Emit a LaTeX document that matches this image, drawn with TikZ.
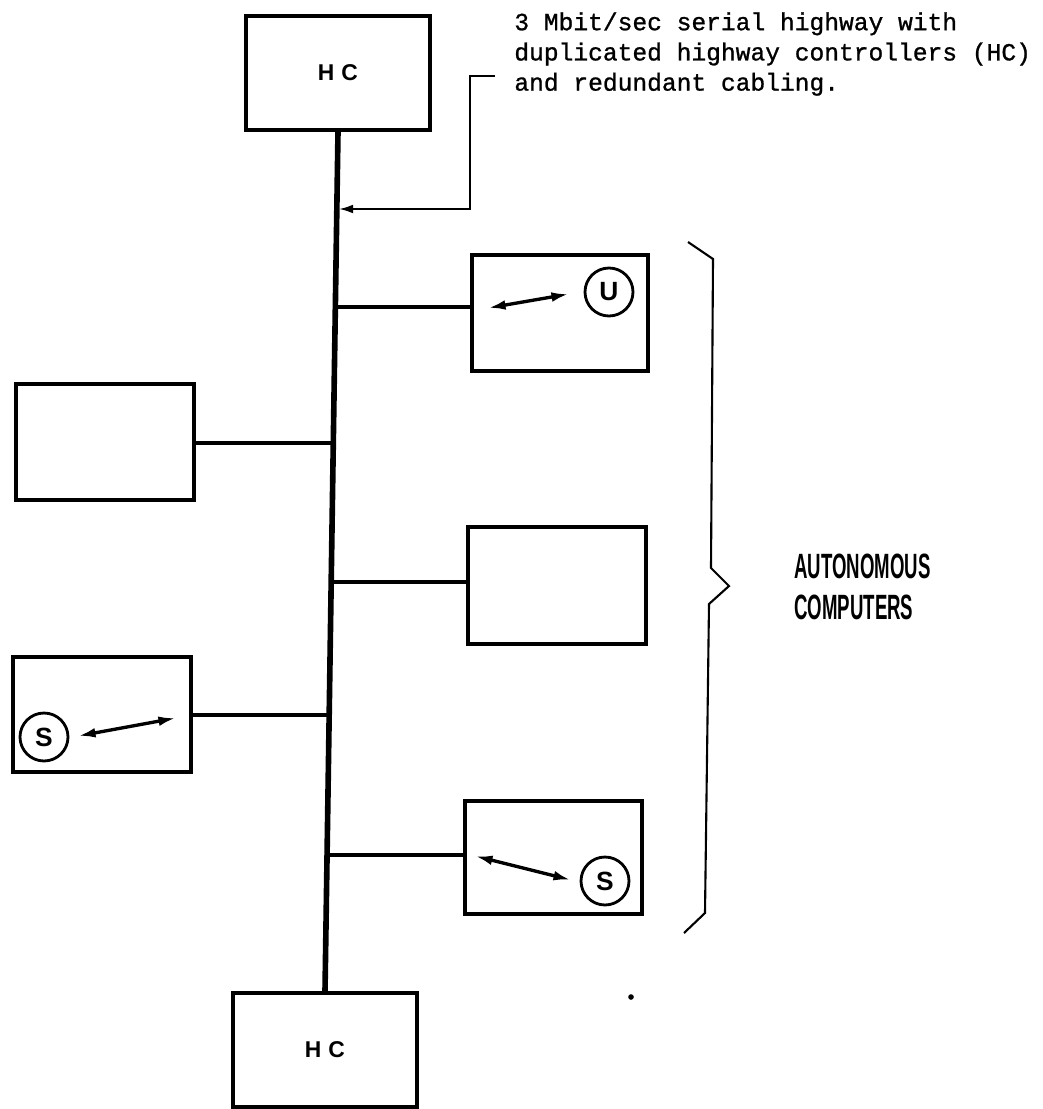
\documentclass[tikz,border=0pt]{standalone}
\usepackage{fontspec}
\setmainfont{Liberation Sans}
\newfontfamily\typew[FakeBold=1.0]{Liberation Mono}
\usetikzlibrary{arrows.meta,calc}
\begin{document}
\begin{tikzpicture}[x=0.02cm,y=-0.02cm,
  box/.style={draw, line width=1.9pt, inner sep=0pt},
  bus/.style={line width=3.2pt},
  link/.style={line width=2.7pt},
  thinline/.style={line width=1.2pt},
  dbl/.style={line width=1.9pt, {Latex[length=10pt,width=5.5pt]}-{Latex[length=10pt,width=5.5pt]}},
  circ/.style={draw, circle, line width=1.6pt, minimum size=0.96cm, inner sep=0pt, font=\fontsize{15}{15}\selectfont\bfseries},
  hc/.style={font=\fontsize{13}{15}\selectfont\bfseries}
]
\path[use as bounding box, fill=white] (0,0) rectangle (1043,1109);

% boxes
\node[box, hc, minimum width=3.68cm, minimum height=2.28cm] (tophc) at (338,73) {H\hspace{4pt}C};
\node[box, hc, minimum width=3.68cm, minimum height=2.28cm] (bothc) at (325,1050) {H\hspace{4pt}C};
\node[box, minimum width=3.52cm, minimum height=2.32cm] (ubox) at (560,313) {};
\node[box, minimum width=3.56cm, minimum height=2.32cm] (lbox) at (105,442) {};
\node[box, minimum width=3.56cm, minimum height=2.34cm] (mbox) at (557,585.5) {};
\node[box, minimum width=3.56cm, minimum height=2.30cm] (lsbox) at (102,714.5) {};
\node[box, minimum width=3.54cm, minimum height=2.26cm] (rsbox) at (553.5,857.5) {};

% circles
\node[circ] (ucirc) at (609,292) {U};
\node[circ] (lscirc) at (44,737) {S};
\node[circ] (rscirc) at (605,881) {S};

% bus
\draw[bus] (tophc.south) -- (bothc.north);

% junctions on bus
\coordinate (j0) at (339,209);
\coordinate (j1) at (335,307);
\coordinate (j2) at (333,443);
\coordinate (j3) at (331,582);
\coordinate (j4) at (328.5,715);
\coordinate (j5) at (326,855);

\draw[link] (j1) -- (ubox.west |- j1);
\draw[link] (j2) -- (lbox.east |- j2);
\draw[link] (j3) -- (mbox.west |- j3);
\draw[link] (j4) -- (lsbox.east |- j4);
\draw[link] (j5) -- (rsbox.west |- j5);

% inner double arrows
\coordinate (ua) at (488,308);
\coordinate (ub) at (569,294);
\draw[dbl] (ua) -- (ub);
\coordinate (lsa) at (78,736);
\coordinate (lsb) at (176,718);
\draw[dbl] (lsa) -- (lsb);
\coordinate (rsa) at (475,856);
\coordinate (rsb) at (571,880);
\draw[dbl] (rsa) -- (rsb);

% annotation
\coordinate (a0) at (495,76);
\coordinate (a1) at (470,76);
\coordinate (a2) at (470,209);
\draw[thinline, -{Latex[length=8pt,width=5pt]}] (a0) -- (a1) -- (a2) -- (j0);
\node[anchor=north west, inner sep=0pt, align=left, font=\typew\fontsize{14}{17.2}\selectfont] (note) at (514,12)
  {3 Mbit/sec serial highway with\\duplicated highway controllers (HC)\\and redundant cabling.};

% brace
\draw[thinline] (688,242) -- (713,259) -- (711,568) -- (729,586) -- (709,604) -- (705,913) -- (684,933);
\node[anchor=north west, inner sep=0pt, align=left, font=\fontsize{20}{23}\selectfont\bfseries] (auto) at (794,554)
  {\scalebox{0.53}[1]{AUTONOMOUS}\\\scalebox{0.53}[1]{COMPUTERS}};

% stray dot
\fill (631,997) circle[radius=1.6pt];
\end{tikzpicture}
\end{document}
